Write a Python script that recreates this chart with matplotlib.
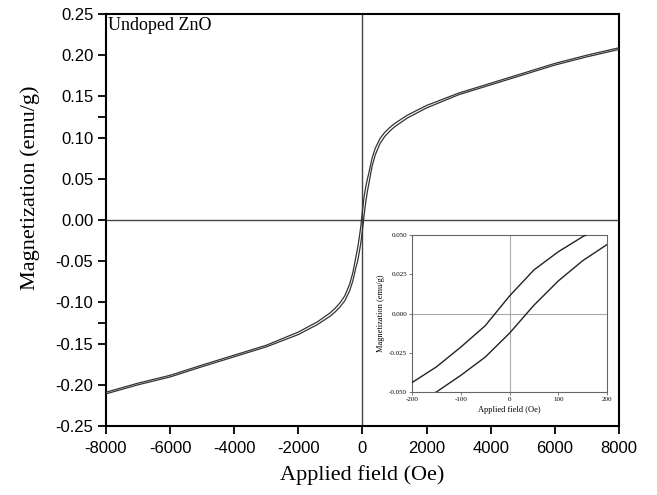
import matplotlib
matplotlib.use("Agg")
import matplotlib.pyplot as plt

# Descending branch (field from +8000 to -8000 Oe)
H_desc = [8000, 7000, 6000, 5000, 4000, 3000, 2000, 1400, 1000, 850, 700, 550, 400, 300, 200, 150, 100, 50, 0,
          -50, -100, -150, -200, -300, -400, -550, -700, -850, -1000, -1400, -2000, -3000, -4000, -5000,
          -6000, -7000, -8000]
M_desc = [0.209, 0.200, 0.190, 0.178, 0.166, 0.154, 0.139, 0.1272, 0.117, 0.1122, 0.1065, 0.099, 0.087, 0.075,
          0.057, 0.049, 0.0394, 0.0278, 0.0112, -0.0078, -0.0214, -0.034, -0.044, -0.064, -0.078, -0.092,
          -0.1005, -0.107, -0.1125, -0.1235, -0.136, -0.152, -0.164, -0.176, -0.1885, -0.198, -0.209]

# Ascending branch (field from -8000 to +8000 Oe)
H_asc = [-8000, -7000, -6000, -5000, -4000, -3000, -2000, -1400, -1000, -850, -700, -550, -400, -300, -200,
         -150, -100, -50, 0, 50, 100, 150, 200, 300, 400, 550, 700, 850, 1000, 1400, 2000, 3000, 4000, 5000,
         6000, 7000, 8000]
M_asc = [-0.211, -0.200, -0.1905, -0.178, -0.166, -0.154, -0.139, -0.1268, -0.1165, -0.1115, -0.1055, -0.098,
         -0.086, -0.074, -0.057, -0.050, -0.0394, -0.0278, -0.0125, 0.0053, 0.0208, 0.0337, 0.044, 0.065,
         0.079, 0.093, 0.1015, 0.1078, 0.113, 0.1238, 0.136, 0.152, 0.164, 0.176, 0.188, 0.198, 0.207]

xticks = [-8000, -6000, -4000, -2000, 0, 2000, 4000, 6000, 8000]
yticks = [-0.25, -0.20, -0.15, -0.10, -0.05, 0.00, 0.05, 0.10, 0.15, 0.20, 0.25]
yminor = [-0.125, 0.125]
inset_xticks = [-200, -100, 0, 100, 200]
inset_yticks = [-0.050, -0.025, 0.000, 0.025, 0.050]

fig = plt.figure(figsize=(6.57, 4.95), dpi=100)
ax = fig.add_axes([0.1613, 0.1394, 0.7807, 0.8323])

line_col = "#333333"
ax.axhline(0, color="#444444", lw=1.0, zorder=1)
ax.axvline(0, color="#444444", lw=1.0, zorder=1)
ax.plot(H_desc, M_desc, color=line_col, lw=0.9, zorder=3)
ax.plot(H_asc, M_asc, color=line_col, lw=0.9, zorder=3)

ax.set_xlim(-8000, 8000)
ax.set_ylim(-0.25, 0.25)
ax.set_xticks(xticks)
ax.set_xticklabels([f"{t:d}" for t in xticks], fontfamily="Liberation Sans", fontsize=12)
ax.set_yticks(yticks)
ax.set_yticklabels([f"{t:.2f}" for t in yticks], fontfamily="Liberation Sans", fontsize=12)
ax.set_yticks(yminor, minor=True)
ax.tick_params(which="both", direction="out", length=6, width=1.3, color="black")
ax.tick_params(axis="x", pad=5)
ax.tick_params(axis="y", pad=3)
for s in ax.spines.values():
    s.set_linewidth(1.5)
    s.set_color("black")

ax.set_xlabel("Applied field (Oe)", fontfamily="Liberation Serif", fontsize=16, labelpad=6)
ax.set_ylabel("Magnetization (emu/g)", fontfamily="Liberation Serif", fontsize=16)
ax.yaxis.set_label_coords(-0.129, 0.578)
ax.text(0.003, 0.992, "Undoped ZnO", transform=ax.transAxes, ha="left", va="top",
        fontfamily="Liberation Serif", fontsize=13)

# Inset
ins = fig.add_axes([0.627, 0.208, 0.297, 0.317])
ins.axhline(0, color="#aaaaaa", lw=0.8, zorder=1)
ins.axvline(0, color="#aaaaaa", lw=0.8, zorder=1)
ins.plot(H_desc, M_desc, color="#222222", lw=1.0, zorder=3)
ins.plot(H_asc, M_asc, color="#222222", lw=1.0, zorder=3)
ins.set_xlim(-200, 200)
ins.set_ylim(-0.050, 0.050)
ins.set_xticks(inset_xticks)
ins.set_xticklabels([f"{t:d}" for t in inset_xticks], fontfamily="Liberation Serif", fontsize=5)
ins.set_yticks(inset_yticks)
ins.set_yticklabels([f"{t:.3f}" for t in inset_yticks], fontfamily="Liberation Serif", fontsize=5)
ins.tick_params(direction="out", length=2, width=0.6, color="#666666", pad=1.5)
for s in ins.spines.values():
    s.set_linewidth(0.8)
    s.set_color("#666666")
ins.set_xlabel("Applied field (Oe)", fontfamily="Liberation Serif", fontsize=6, labelpad=3)
ins.set_ylabel("Magnetization (emu/g)", fontfamily="Liberation Serif", fontsize=6, labelpad=3)

fig.savefig("out.png", dpi=100)
